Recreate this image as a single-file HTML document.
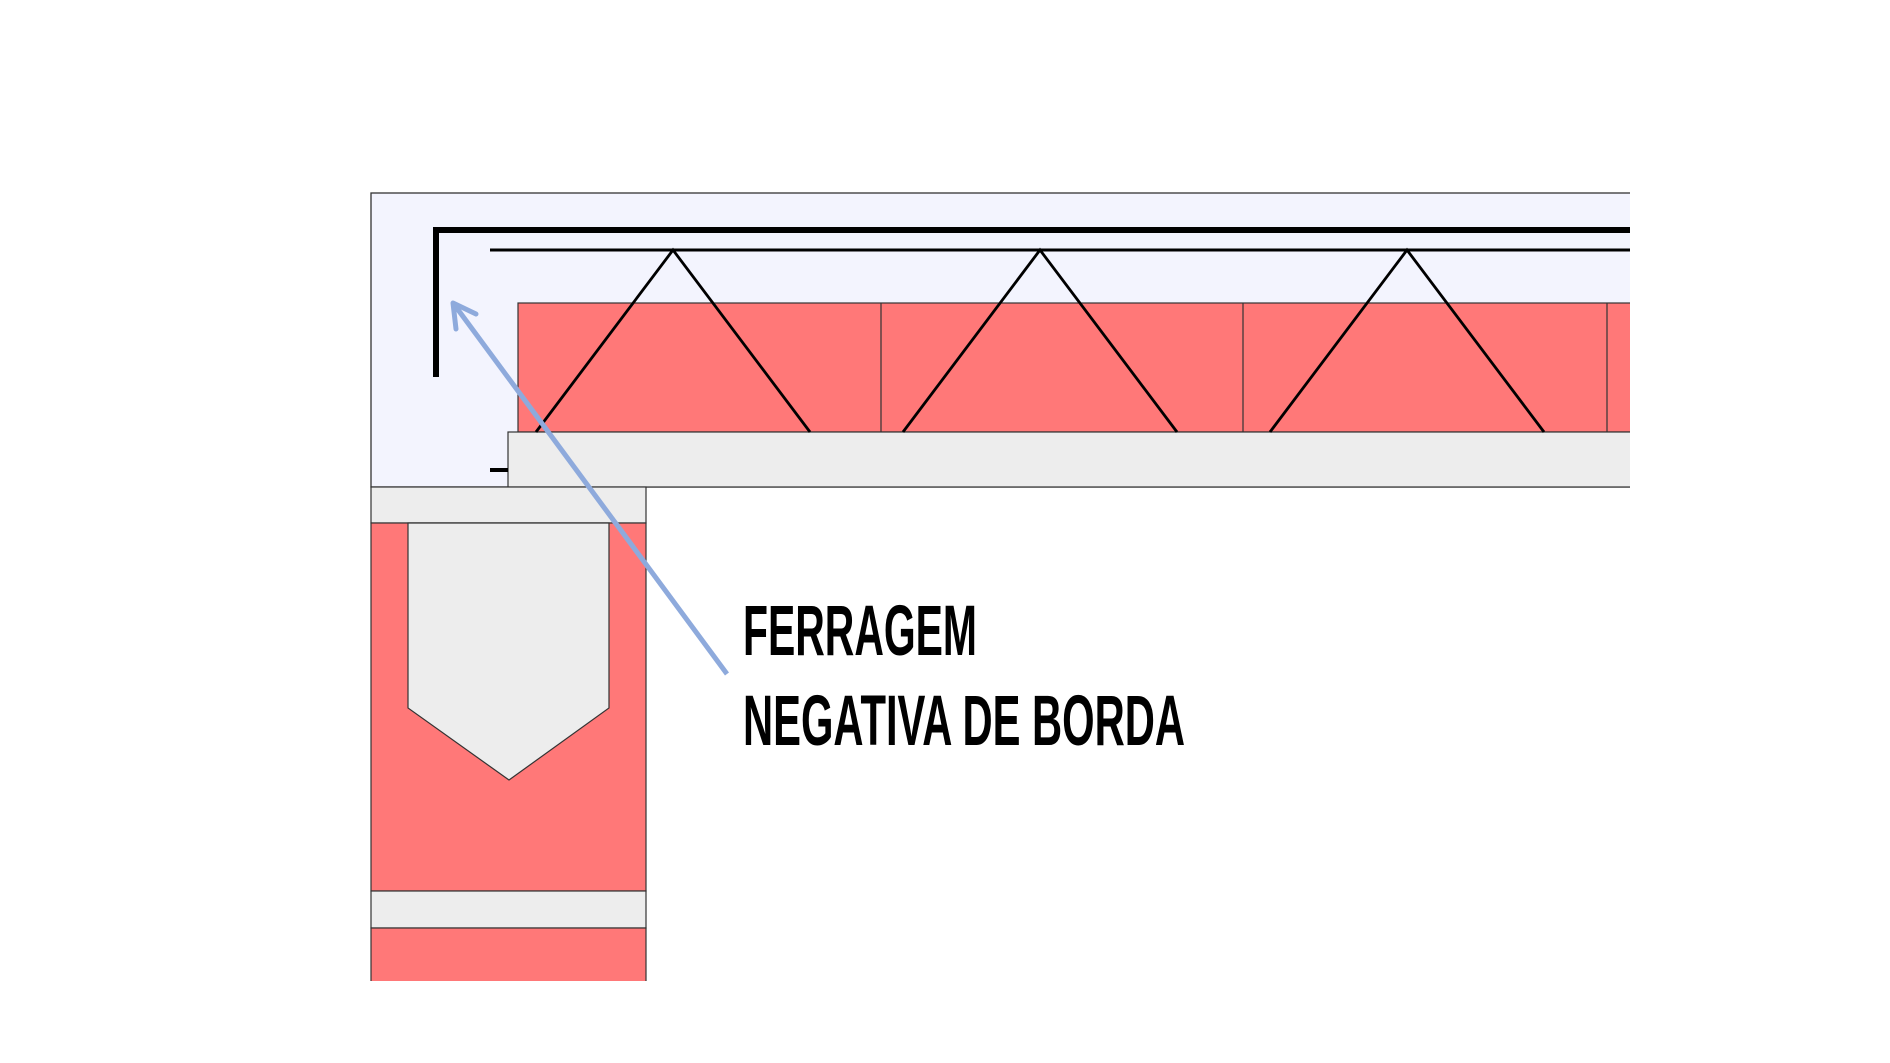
<!DOCTYPE html>
<html><head><meta charset="utf-8"><style>html,body{margin:0;padding:0;background:#fff}svg{display:block}</style></head>
<body>
<svg width="1890" height="1063" viewBox="0 0 1890 1063" xmlns="http://www.w3.org/2000/svg">
<rect width="1890" height="1063" fill="#fff"/>
<rect x="371" y="193" width="1280" height="294" fill="#f3f4fe" stroke="#333" stroke-width="1.3"/>
<rect x="518" y="303" width="1133" height="129" fill="#ff7878" stroke="#333" stroke-width="1.2"/>
<line x1="881" y1="303" x2="881" y2="432" stroke="#333" stroke-width="1.2"/>
<line x1="1243" y1="303" x2="1243" y2="432" stroke="#333" stroke-width="1.2"/>
<line x1="1607" y1="303" x2="1607" y2="432" stroke="#333" stroke-width="1.2"/>
<rect x="508" y="432" width="1143" height="55" fill="#ededed" stroke="#333" stroke-width="1.2"/>
<line x1="490" y1="470" x2="508" y2="470" stroke="#000" stroke-width="4"/>
<polyline points="436,377 436,230 1650,230" fill="none" stroke="#000" stroke-width="6"/>
<line x1="490" y1="250" x2="1650" y2="250" stroke="#000" stroke-width="3"/>
<polyline points="536,432 673,250 810,432" fill="none" stroke="#000" stroke-width="2.8"/>
<polyline points="903,432 1040,250 1177,432" fill="none" stroke="#000" stroke-width="2.8"/>
<polyline points="1270,432 1407,250 1544,432" fill="none" stroke="#000" stroke-width="2.8"/>
<rect x="1630" y="180" width="40" height="320" fill="#fff"/>
<rect x="371" y="487" width="275" height="36" fill="#ededed" stroke="#333" stroke-width="1.2"/>
<rect x="371" y="523" width="275" height="368" fill="#ff7878" stroke="#333" stroke-width="1.2"/>
<polygon points="408,523 609,523 609,708 509,780 408,708" fill="#ededed" stroke="#333" stroke-width="1.2"/>
<rect x="371" y="891" width="275" height="37" fill="#ededed" stroke="#333" stroke-width="1.2"/>
<rect x="371" y="928" width="275" height="54" fill="#ff7878" stroke="#333" stroke-width="1.2"/>
<rect x="360" y="981" width="300" height="10" fill="#fff"/>
<line x1="727" y1="674" x2="456" y2="307" stroke="#8eaadc" stroke-width="5"/>
<polyline points="456,329 453,303 476,314" fill="none" stroke="#8eaadc" stroke-width="5" stroke-linecap="round" stroke-linejoin="round"/>
<text x="743" y="655" font-family="'Liberation Sans Narrow','Liberation Sans',sans-serif" font-weight="bold" font-size="71" textLength="234" lengthAdjust="spacingAndGlyphs" fill="#000">FERRAGEM</text>
<text x="743" y="745" font-family="'Liberation Sans Narrow','Liberation Sans',sans-serif" font-weight="bold" font-size="71" textLength="442" lengthAdjust="spacingAndGlyphs" fill="#000">NEGATIVA DE BORDA</text>
</svg>
</body></html>
